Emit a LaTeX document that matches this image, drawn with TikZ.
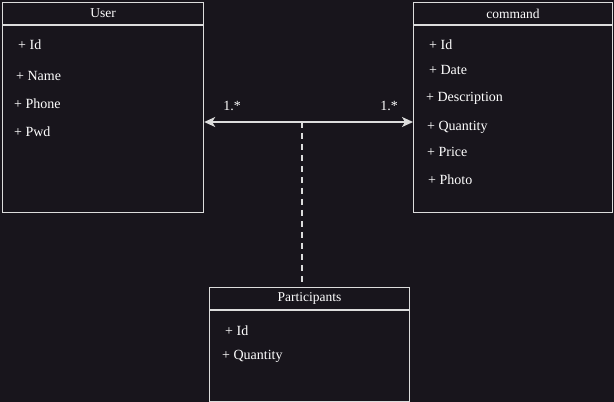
\documentclass[tikz,border=0pt]{standalone}
\usepackage{fontspec}
\setmainfont{Liberation Serif}
\usetikzlibrary{arrows.meta,positioning}
\definecolor{sfondo}{HTML}{18151C}
\definecolor{bordo}{HTML}{DCDCDC}
\tikzset{
  hdr/.style={draw=bordo,line width=1.2pt,fill=sfondo,text=white,
    minimum width=#1,minimum height=22pt,inner sep=0pt,
    font=\fontsize{13.5}{15}\selectfont},
  corpo/.style={draw=bordo,line width=1.2pt,fill=sfondo,
    minimum width=#1,inner sep=0pt},
  attr/.style={anchor=west,text=white,inner sep=0pt,
    font=\fontsize{14}{16}\selectfont},
  molt/.style={text=white,inner sep=0pt,font=\fontsize{14}{16}\selectfont}
}
\begin{document}
\begin{tikzpicture}[x=1pt,y=1pt]
    \fill[sfondo] (0,0) rectangle (614,402);
    \useasboundingbox (0,0) rectangle (614,402);
            %classe User
            \node[hdr=201pt,anchor=north west] (user) at (2,400) {User};
            \node[corpo=201pt,minimum height=187pt,below=0pt of user] (userb) {};
            \node[attr] (uid) at (18,357) {+ Id};
            \node[attr] (uname) at (16,326) {+ Name};
            \node[attr] (uphone) at (14,298) {+ Phone};
            \node[attr] (upwd) at (14,270) {+ Pwd};
            %classe command
            \node[hdr=199pt,anchor=north west] (cmd) at (413,400) {command};
            \node[corpo=199pt,minimum height=187pt,below=0pt of cmd] (cmdb) {};
            \node[attr] (cid) at (429,357) {+ Id};
            \node[attr] (cdate) at (429,332) {+ Date};
            \node[attr] (cdesc) at (426,304) {+ Description};
            \node[attr] (cqty) at (427,275) {+ Quantity};
            \node[attr] (cprice) at (427,250) {+ Price};
            \node[attr] (cphoto) at (428,222) {+ Photo};
            %classe Participants
            \node[hdr=200pt,anchor=north west] (part) at (209,115) {Participants};
            \node[corpo=200pt,minimum height=90.5pt,below=0pt of part] (partb) {};
            \node[attr] (pid) at (225,71) {+ Id};
            \node[attr] (pqty) at (222,46) {+ Quantity};
            %associazione
            \coordinate (mid) at (302,280);
            \draw[bordo,line width=1.5pt,{Stealth[length=11pt,width=10pt,inset=3pt]}-{Stealth[length=11pt,width=10pt,inset=3pt]}]
                 (userb.east |- mid) -- (cmdb.west |- mid);
            \node[molt] (m1) at (232,296) {1.*};
            \node[molt] (m2) at (389,296) {1.*};
            %classe associativa
            \draw[bordo,line width=1.5pt,dash pattern=on 6pt off 5pt] (mid) -- (mid |- part.north);
    \end{tikzpicture}
\end{document}
